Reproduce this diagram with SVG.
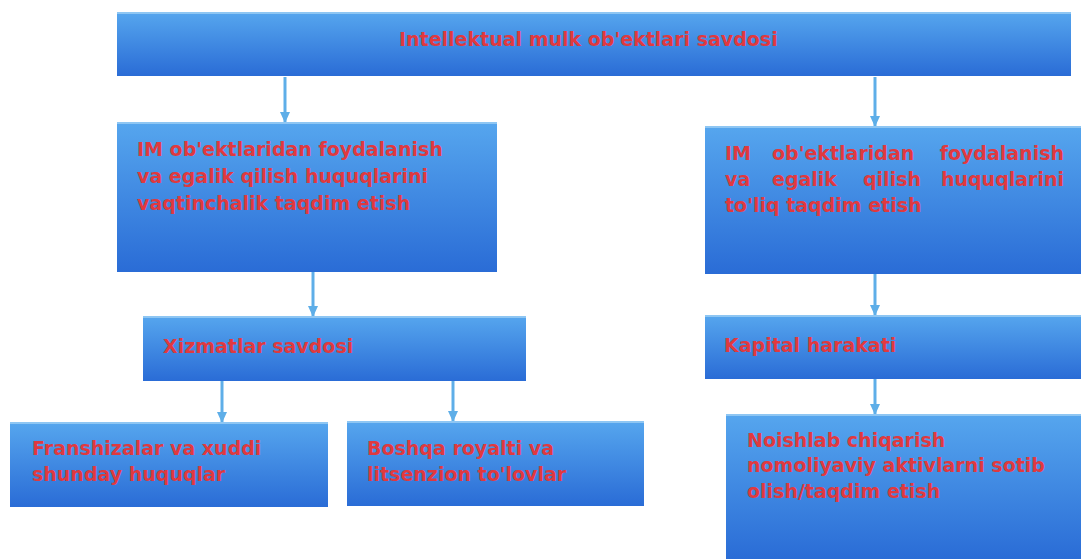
<svg xmlns="http://www.w3.org/2000/svg" width="1081" height="559" viewBox="0 0 1081 559">
<defs>
<linearGradient id="g" x1="0" y1="0" x2="0" y2="1">
<stop offset="0" stop-color="#56a6ee"/>
<stop offset="1" stop-color="#2a6cd6"/>
</linearGradient>
<marker id="ah" markerWidth="12" markerHeight="10" refX="10" refY="5" orient="auto" markerUnits="userSpaceOnUse">
<path d="M0,0 L11,5 L0,10 Z" fill="#5eaee8"/>
</marker>
<style>
.box{fill:url(#g);}
.hl{fill:#8ec6f3;}
.t{font-family:"DejaVu Sans",Verdana,sans-serif;font-weight:bold;font-size:19px;fill:#e0393f;}
.c{stroke:#5eaee8;stroke-width:3;fill:none;marker-end:url(#ah);}
</style>
</defs>
<rect width="1081" height="559" fill="#ffffff"/>
<g id="connectors">
<line class="c" x1="285" y1="77" x2="285" y2="122"/>
<line class="c" x1="875" y1="77" x2="875" y2="126"/>
<line class="c" x1="313" y1="272" x2="313" y2="316"/>
<line class="c" x1="875" y1="274" x2="875" y2="315"/>
<line class="c" x1="222" y1="381" x2="222" y2="422"/>
<line class="c" x1="453" y1="381" x2="453" y2="421"/>
<line class="c" x1="875" y1="379" x2="875" y2="414"/>
</g>
<g id="n-top">
<rect class="box" x="117" y="12" width="954" height="64"/>
<rect class="hl" x="117" y="12" width="954" height="2"/>
<text class="t" x="399" y="46">Intellektual mulk ob'ektlari savdosi</text>
</g>
<g id="n-temp">
<rect class="box" x="117" y="122" width="380" height="150"/>
<rect class="hl" x="117" y="122" width="380" height="2"/>
<text class="t" x="137" y="156">IM ob'ektlaridan foydalanish</text>
<text class="t" x="137" y="183">va egalik qilish huquqlarini</text>
<text class="t" x="137" y="210">vaqtinchalik taqdim etish</text>
</g>
<g id="n-full">
<rect class="box" x="705" y="126" width="376" height="148"/>
<rect class="hl" x="705" y="126" width="376" height="2"/>
<text class="t" x="725" y="160">IM</text>
<text class="t" x="772" y="160">ob'ektlaridan</text>
<text class="t" x="1064" y="160" text-anchor="end">foydalanish</text>
<text class="t" x="725" y="186">va</text>
<text class="t" x="772" y="186">egalik</text>
<text class="t" x="863" y="186">qilish</text>
<text class="t" x="1064" y="186" text-anchor="end">huquqlarini</text>
<text class="t" x="725" y="212">to'liq taqdim etish</text>
</g>
<g id="n-services">
<rect class="box" x="143" y="316" width="383" height="65"/>
<rect class="hl" x="143" y="316" width="383" height="2"/>
<text class="t" x="163" y="353">Xizmatlar savdosi</text>
</g>
<g id="n-capital">
<rect class="box" x="705" y="315" width="376" height="64"/>
<rect class="hl" x="705" y="315" width="376" height="2"/>
<text class="t" x="724" y="352">Kapital harakati</text>
</g>
<g id="n-franchise">
<rect class="box" x="10" y="422" width="318" height="85"/>
<rect class="hl" x="10" y="422" width="318" height="2"/>
<text class="t" x="32" y="455">Franshizalar va xuddi</text>
<text class="t" x="32" y="481">shunday huquqlar</text>
</g>
<g id="n-royalty">
<rect class="box" x="347" y="421" width="297" height="85"/>
<rect class="hl" x="347" y="421" width="297" height="2"/>
<text class="t" x="367" y="455">Boshqa royalti va</text>
<text class="t" x="367" y="481">litsenzion to'lovlar</text>
</g>
<g id="n-nonproduced">
<rect class="box" x="726" y="414" width="355" height="145"/>
<rect class="hl" x="726" y="414" width="355" height="2"/>
<text class="t" x="747" y="447">Noishlab chiqarish</text>
<text class="t" x="747" y="472">nomoliyaviy aktivlarni sotib</text>
<text class="t" x="747" y="498">olish/taqdim etish</text>
</g>
</svg>
